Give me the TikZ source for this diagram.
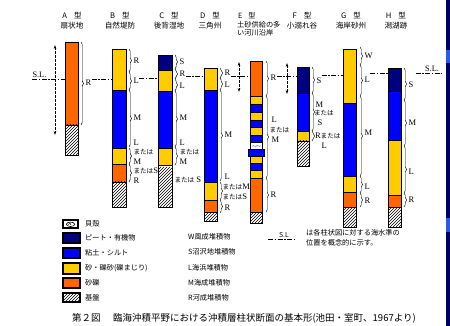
\documentclass[tikz,border=0pt]{standalone}
\usepackage{fontspec}
\setmainfont{Liberation Serif}
\newfontfamily\jp{Noto Sans CJK JP}
\usetikzlibrary{decorations.pathreplacing,arrows.meta}

\definecolor{peat}{RGB}{0,0,128}
\definecolor{clay}{RGB}{0,0,255}
\definecolor{sand}{RGB}{255,204,0}
\definecolor{gravel}{RGB}{255,102,0}
\definecolor{edgenavy}{RGB}{0,0,100}
\definecolor{edgeblue}{RGB}{40,90,230}

\newcommand\mataha{{\jp\fontsize{6.6}{7}\selectfont または}}

% bedrock: white box with "////" hatching, clipped to the box
% #1 left, #2 top, #3 right, #4 bottom, #5 extra options for the outline
\newcommand\bedrock[5]{%
  \begin{scope}
    \clip (#1,#2) rectangle (#3,#4);
    \foreach \k in {-40,-37,...,20}
      \draw[line width=0.45pt] ({#1+\k},{#4}) -- ({#1+\k+40},{#4-40});
  \end{scope}
  \path[lay,#5] (#1,#2) rectangle (#3,#4);}

\tikzset{
  lay/.style={draw=black,line width=0.7pt},
  peatL/.style={lay,fill=peat},
  clayL/.style={lay,fill=clay},
  sandL/.style={lay,fill=sand},
  gravL/.style={lay,fill=gravel},
  shellL/.style={lay,fill=white},
  legbox/.style={line width=1.1pt},
  brc/.style={decorate,decoration={brace,amplitude=2.5pt},line width=0.45pt},
  lbl/.style={font=\fontsize{8.5}{9}\selectfont,inner sep=0.3pt,anchor=west},
  hdr/.style={font=\jp\fontsize{7.6}{9.6}\selectfont,align=center,inner sep=0pt,anchor=north},
  leg/.style={font=\jp\fontsize{7.2}{8}\selectfont,inner sep=0pt,anchor=west},
  sl/.style={line width=0.5pt,dash pattern=on 5pt off 1.5pt on 1.5pt off 1.5pt},
  slarrow/.style={line width=0.5pt,dash pattern=on 2.5pt off 1.5pt,
     {Stealth[length=4pt,width=2.6pt]}-{Stealth[length=4pt,width=2.6pt]}},
}

\begin{document}
\begin{tikzpicture}[x=1pt,y=-1pt]
\useasboundingbox (0,0) rectangle (450,326);
\fill[white] (0,0) rectangle (450,326);

% frame strip at the right edge
\fill[edgenavy] (445.5,0) rectangle (450,326);
\fill[edgeblue] (445.5,50) rectangle (450,63);
\fill[edgeblue] (445.5,218) rectangle (450,232);

% ---------- column headings ----------
\node[hdr] (hA) at (72,12) {A\hspace{7pt}型\\扇状地};
\node[hdr] (hB) at (120,12) {B\hspace{7pt}型\\自然堤防};
\node[hdr] (hC) at (169,12) {C\hspace{7pt}型\\後背湿地};
\node[hdr] (hD) at (210,12) {D\hspace{7pt}型\\三角州};
\node[hdr,anchor=north west,align=left,font=\jp\fontsize{7.2}{8.8}\selectfont] (hE) at (237,12) {\hspace{1pt}E\hspace{6pt}型\\土砂供給の多\\い河川沿岸};
\node[hdr] (hF) at (302,12) {F\hspace{7pt}型\\小溺れ谷};
\node[hdr] (hG) at (351,12) {G\hspace{7pt}型\\海岸砂州};
\node[hdr] (hH) at (396,12) {H\hspace{7pt}型\\潟湖跡};

% ---------- column A ----------
\path[gravL] (65,42) rectangle (78,125);
\bedrock{65}{125}{78}{155}{}
\draw[brc] (81,42) -- (81,125);
\node[lbl] (rA) at (85,83) {R};

% ---------- column B ----------
\path[sandL] (112,49) rectangle (126,90);
\path[clayL] (112,90) rectangle (126,148);
\path[sandL] (112,148) rectangle (126,164);
\path[gravL] (112,164) rectangle (126,182);
\bedrock{112}{182}{126}{207}{}
\draw[brc] (129,49) -- (129,72);
\draw[brc] (129,72) -- (129,90);
\draw[brc] (129,90) -- (129,147);
\draw[brc] (129,148) -- (129,164);
\draw[brc] (129,164) -- (129,182);
\node[lbl] (rB) at (133,61) {R};
\node[lbl] (lB) at (133,81) {L};
\node[lbl] (mB) at (133,118) {M};
\node[lbl] (lB2) at (133,143) {L};
\node[lbl] (oB1) at (133,152.5) {\mataha};
\node[lbl] (mB2) at (133,161.5) {M};
\node[lbl] (oB2) at (133,171) {\mataha S};
\node[lbl] (rB2) at (133,181) {R};

% ---------- column C ----------
\path[peatL] (158,55) rectangle (172,70);
\path[sandL] (158,70) rectangle (172,91);
\path[clayL] (158,91) rectangle (172,148);
\path[sandL] (158,148) rectangle (172,165);
\bedrock{158}{165}{172}{207}{}
\draw[brc] (175,55) -- (175,69);
\draw[brc] (175,69) -- (175,79);
\draw[brc] (175,79) -- (175,91);
\draw[brc] (175,91) -- (175,147);
\draw[brc] (175,147) -- (175,165);
\node[lbl] (sC) at (179,62) {S};
\node[lbl] (rC) at (179,73.5) {R};
\node[lbl] (lC) at (179,86) {L};
\node[lbl] (mC) at (179,118) {M};
\node[lbl] (lC2) at (179,143) {L};
\node[lbl] (oC1) at (179,152.5) {\mataha};
\node[lbl] (mC2) at (179,162) {M};
\node[lbl] (oC2) at (174,180) {\mataha\ S};

% ---------- column D ----------
\path[sandL] (204,68) rectangle (217,90);
\path[clayL] (204,90) rectangle (217,182);
\path[sandL] (204,182) rectangle (217,200);
\path[gravL] (204,200) rectangle (217,212);
\bedrock{204}{212}{217}{221}{}
\draw[brc] (220,68) -- (220,78);
\draw[brc] (220,78) -- (220,90);
\draw[brc] (220,90) -- (220,181);
\draw[brc] (220,182) -- (220,200);
\draw[brc] (220,200) -- (220,213);
\node[lbl] (rD) at (224,72.5) {R};
\node[lbl] (lD) at (224,84.5) {L};
\node[lbl] (mD) at (224,135) {M};
\node[lbl] (lD2) at (224,177) {L};
\node[lbl] (oD1) at (222,187) {\mataha M};
\node[lbl] (oD2) at (222,197) {\mataha S};
\node[lbl] (rD2) at (224,208) {R};

% ---------- column E ----------
\path[gravL] (250,61) rectangle (262,96);
\path[sandL] (250,96) rectangle (262,104);
\path[clayL] (250,104) rectangle (262,112);
\path[sandL] (250,112) rectangle (262,120);
\path[clayL] (250,120) rectangle (262,127);
\path[sandL] (250,127) rectangle (262,135);
\path[clayL] (250,135) rectangle (262,142);
\path[shellL] (250,142) rectangle (262,149);
\draw[gray,line width=0.5pt] (252,146.5) .. controls (253.5,143.5) and (255,148.5) .. (256.5,145.5);
\draw[gray,line width=0.5pt] (256.5,146.5) .. controls (258,143.5) and (259.5,148.5) .. (260.5,145.5);
\path[clayL] (248,149) rectangle (264,156);
\path[sandL] (250,156) rectangle (262,163);
\path[clayL] (250,163) rectangle (262,170);
\path[sandL] (250,170) rectangle (262,178);
\path[gravL] (250,178) rectangle (262,212);
\bedrock{250}{212}{262}{223}{}
\draw[brc] (266,61) -- (266,96);
\draw[brc] (266,96) -- (266,178);
\draw[brc] (266,178) -- (266,212);
\node[lbl] (rE) at (270,77.5) {R};
\node[lbl] (lE) at (271,120) {L};
\node[lbl] (oE) at (269,130) {\mataha};
\node[lbl] (mE) at (271,140) {M};
\node[lbl] (rE2) at (270,195) {R};

% ---------- column F ----------
\path[peatL] (297,67) rectangle (309,93);
\path[clayL] (297,93) rectangle (309,131);
\path[sandL] (297,131) rectangle (309,141);
\bedrock{297}{141}{309}{166}{}
\draw[brc] (312,67) -- (312,93);
\draw[brc] (312,93) -- (312,131);
\draw[brc] (312,131) -- (312,141);
\node[lbl] (sF) at (316,80.5) {S};
\node[lbl] (mF) at (315,104.5) {M};
\node[lbl] (oF) at (313.5,113.5) {\mataha};
\node[lbl] (sF2) at (317,123) {S};
\node[lbl] (rF) at (314.5,135.5) {R\mataha};
\node[lbl] (lF) at (321,146) {L};

% ---------- column G ----------
\path[sandL] (343,49) rectangle (356,103);
\path[clayL] (343,103) rectangle (356,176);
\path[sandL] (343,176) rectangle (356,192);
\path[gravL] (343,192) rectangle (356,207);
\bedrock{343}{207}{356}{227}{}
\draw[brc] (360,47) -- (360,65);
\draw[brc] (360,65) -- (360,96);
\draw[brc] (360,96) -- (360,176);
\draw[brc] (360,176) -- (360,193);
\draw[brc] (360,193) -- (360,207);
\node[lbl] (wG) at (364,56) {W};
\node[lbl] (lG) at (364,80) {L};
\node[lbl] (mG) at (364,133) {M};
\node[lbl] (lG2) at (364,186.5) {L};
\node[lbl] (rG) at (364,201) {R};

% ---------- column H ----------
\path[peatL] (388,68) rectangle (401,91);
\path[clayL] (388,91) rectangle (401,140);
\path[sandL] (388,140) rectangle (401,195);
\path[gravL] (388,195) rectangle (401,207);
\bedrock{388}{207}{401}{227}{}
\draw[brc] (404,68) -- (404,100);
\draw[brc] (404,100) -- (404,146);
\draw[brc] (404,146) -- (404,193);
\draw[brc] (404,193) -- (404,207);
\node[lbl] (sH) at (408,84.5) {S};
\node[lbl] (mH) at (408,123) {M};
\node[lbl] (lH) at (408,172) {L};
\node[lbl] (rH) at (408,200) {R};

% ---------- sea level marks ----------
\coordinate (cA) at (65,79);
\coordinate (cB) at (112,79);
\coordinate (cC) at (158,78);
\coordinate (cD) at (204,76);
\coordinate (cE) at (250,76);
\coordinate (cF) at (297,76);
\coordinate (cG) at (343,75);
\coordinate (cH) at (388,73);
\coordinate (cR) at (442,73);

\node[lbl,anchor=south west,font=\fontsize{8.3}{9}\selectfont] (slL) at (32,78) {S.L.};
\node[lbl,anchor=south,font=\fontsize{8.3}{9}\selectfont] (slR) at (432,72) {S.L.};

\draw[sl] (slL.south west |- cA) -- (cA);
\draw[sl] (rA.east |- cB) -- (cB);
\draw[sl] (lB.east |- cC) -- (cC);
\draw[sl] (rC.east |- cD) -- (cD);
\draw[sl] (rD.east |- cE) -- (cE);
\draw[sl] (rE.east |- cF) -- (cF);
\draw[sl] (sF.east |- cG) -- (cG);
\draw[sl] (lG.east |- cH) -- (cH);
\draw[sl] (sH.east |- cR) ++(2,0) -- (cR);

% range of sea level change
\coordinate (vA1) at (55,45);  \coordinate (vA2) at (55,135);
\coordinate (vD1) at (239,62); \coordinate (vD2) at (239,92);
\coordinate (vF1) at (287,63); \coordinate (vF2) at (287,94);
\draw[slarrow] (vA1) -- (vA2);
\draw[slarrow] (vD1) -- (vD2);
\draw[slarrow] (vF1) -- (vF2);

% ---------- legend ----------
\path[shellL,legbox] (63,220) rectangle (78,228);
\draw[line width=0.6pt] (70.5,224.3) ellipse (4.2 and 2.2);
\draw[line width=0.5pt] (68,224.5) .. controls (69,222.8) and (71.5,223) .. (71,225);
\path[peatL,legbox] (63,233) rectangle (80,243);
\path[clayL,legbox] (63,248) rectangle (80,258);
\path[sandL,legbox] (63,263) rectangle (80,274);
\path[gravL,legbox] (63,278) rectangle (80,288);
\bedrock{63}{293}{80}{302}{legbox}

\node[leg] (t1) at (85,224) {貝殻};
\node[leg] (t2) at (85,238) {ピート・有機物};
\node[leg] (t3) at (85,253) {粘土・シルト};
\node[leg] (t4) at (85,268.5) {砂・礫砂(礫まじり)};
\node[leg] (t5) at (85,283) {砂礫};
\node[leg] (t6) at (85,297.5) {基盤};

\node[leg] (w1) at (188,237) {W風成堆積物};
\node[leg] (w2) at (188,252) {S沼沢地堆積物};
\node[leg] (w3) at (188,267.5) {L海浜堆積物};
\node[leg] (w4) at (188,283) {M海成堆積物};
\node[leg] (w5) at (188,298) {R河成堆積物};

\coordinate (sl1) at (268,239);
\coordinate (sl2) at (294,239);
\draw[sl] (sl1) -- (sl2);
\node[leg,anchor=south,font=\jp\fontsize{6.8}{7}\selectfont] (slT) at (284,237.5) {S.L};
\node[leg] (n1) at (306,233) {は各柱状図に対する海水準の};
\node[leg] (n2) at (306,243) {位置を概念的に示す。};

% ---------- caption ----------
\node[font=\jp\fontsize{9.5}{11}\selectfont,inner sep=0pt] (cap) at (244,318)
  {第２図\hspace{1.3em}臨海沖積平野における沖積層柱状断面の基本形(池田・室町、1967より)};
\end{tikzpicture}
\end{document}
